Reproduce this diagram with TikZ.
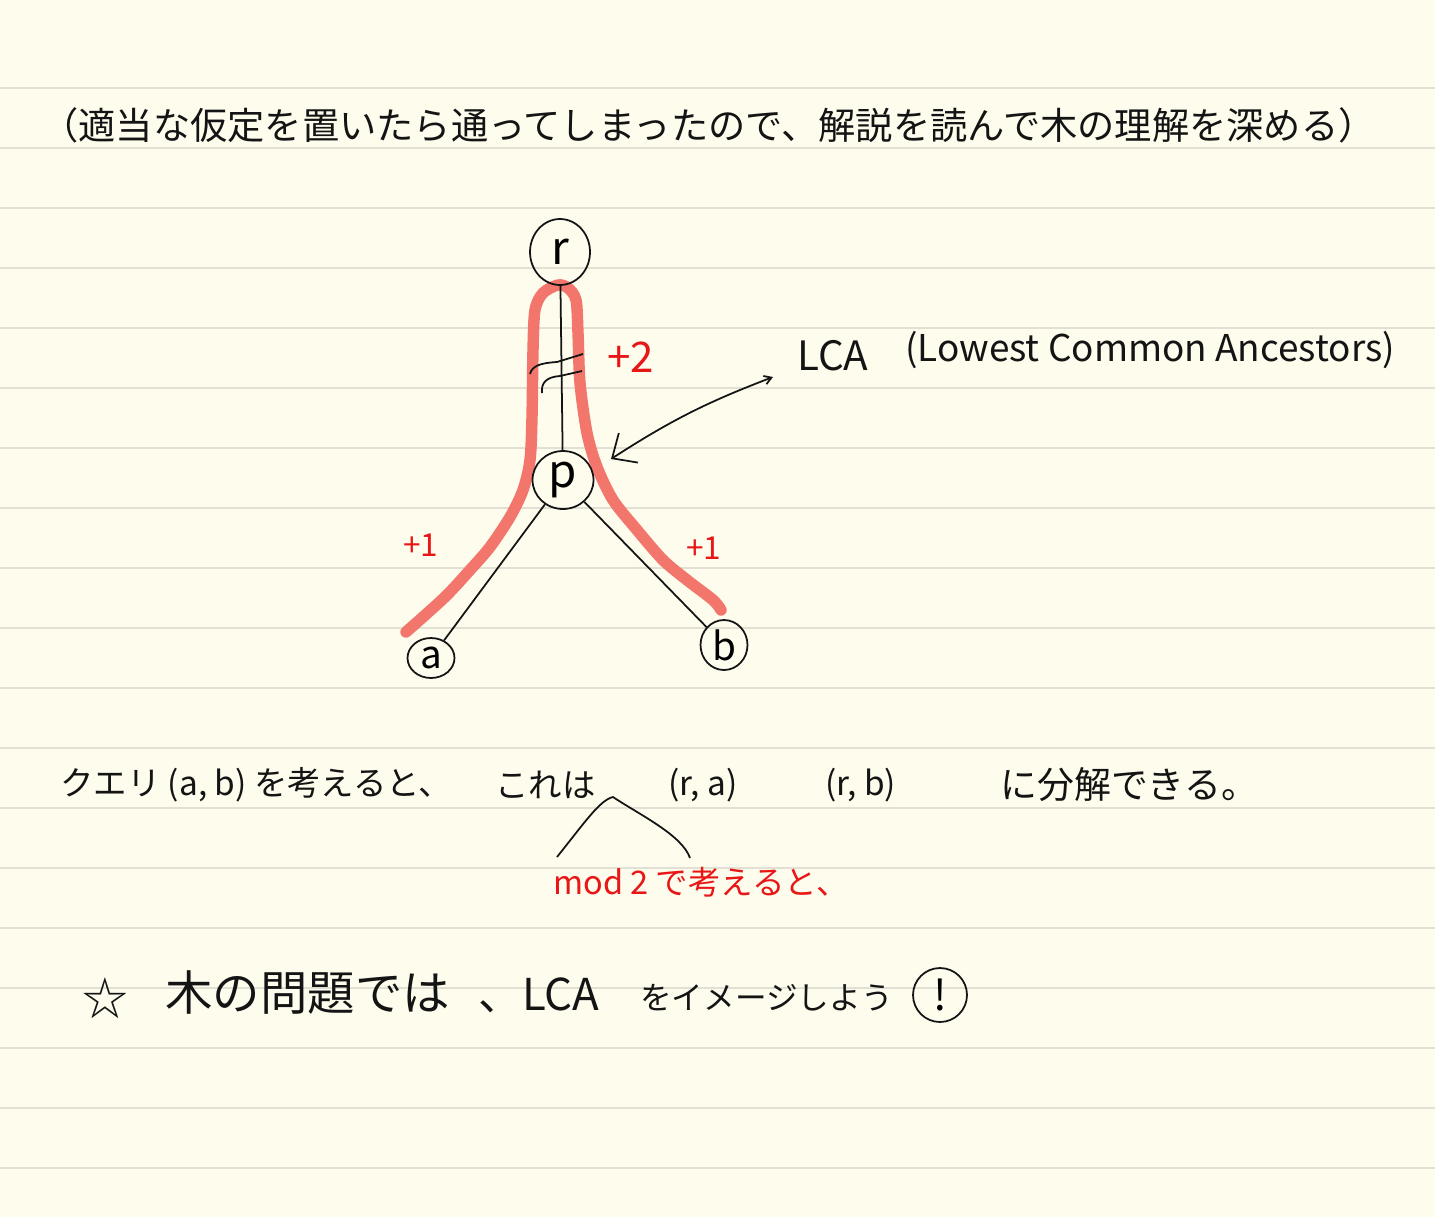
\documentclass[tikz,border=0pt]{standalone}
\usepackage{fontspec}
\newfontfamily\jp{Noto Sans CJK JP}
\usepackage{xcolor}
\usepackage{tikz}
\usetikzlibrary{arrows.meta,shapes.geometric,calc,positioning}
\definecolor{paper}{RGB}{254,252,237}
\definecolor{rule}{RGB}{226,224,212}
\definecolor{ink}{RGB}{20,20,20}
\definecolor{pen}{RGB}{232,22,22}
\definecolor{marker}{RGB}{242,118,108}
\tikzset{
  note/.style={font=\jp\fontsize{19}{22}\selectfont, text=ink, inner sep=0pt, anchor=west},
  rednote/.style={note, text=pen},
  vertex/.style={draw=ink, ellipse, inner sep=0pt, line width=1pt, font=\jp\fontsize{26}{28}\selectfont},
  edge/.style={draw=ink, line width=1pt},
  hl/.style={draw=marker, line width=6.5pt, line cap=round, line join=round},
}

\begin{document}
\begin{tikzpicture}[x=0.02cm, y=-0.02cm]
  \useasboundingbox (0,0) rectangle (1435,1217);
  % Paper and ruling
  \fill[paper] (0,0) rectangle (1435,1217);
  \foreach \ly in {88,148,...,1168}
    \draw[rule, line width=1.2pt] (0,\ly) -- (1435,\ly);
  % Heading
  \node[note, font=\jp\fontsize{21.2}{24}\selectfont] (head) at (41,125)
    {（適当な仮定を置いたら通ってしまったので、解説を読んで木の理解を深める）};
  % Path r -> a and r -> b
  \draw[hl] plot[smooth] coordinates {(406,632) (423,617) (447,595) (470,570) (490,547)
    (510,517) (523,490) (530,460) (532,417) (533,350) (535,310) (543,293) (558,285)
    (568,288) (576,300) (578,333) (580,383) (587,433) (597,467) (613,500) (637,530)
    (663,560) (687,580) (713,600) (721,610)};
  % Tree
  \node[vertex, minimum width=1.2cm, minimum height=1.32cm] (r) at (560,252) {r};
  \node[vertex, minimum width=1.22cm, minimum height=1.16cm] (p) at (563,480) {p};
  \node[vertex, minimum width=0.94cm, minimum height=0.8cm, font=\jp\fontsize{22}{24}\selectfont] (a) at (431,658) {a};
  \node[vertex, minimum width=0.94cm, minimum height=1.0cm, font=\jp\fontsize{22}{24}\selectfont] (b) at (724,645) {b};
  \draw[edge] (r) -- (p);
  \draw[edge] (p) -- (a);
  \draw[edge] (p) -- (b);
  % Omitted part of the edge
  \draw[edge] (530,374) .. controls (532,366) and (540,363) .. (557,362) -- (583,354);
  \draw[edge] (542,393) .. controls (541,383) and (546,377) .. (560,376) -- (582,371);
  % Parity marks
  \node[rednote, font=\jp\fontsize{24}{26}\selectfont] (two) at (607,357) {+2};
  \node[rednote, font=\jp\fontsize{18}{20}\selectfont] (onea) at (403,545) {+1};
  \node[rednote, font=\jp\fontsize{18}{20}\selectfont] (oneb) at (686,548) {+1};
  % LCA label
  \node[note, font=\jp\fontsize{23}{26}\selectfont] (lca) at (797,356) {LCA};
  \node[note, font=\jp\fontsize{21}{24}\selectfont] (lcaname) at (905,350) {(Lowest Common Ancestors)};
  \coordinate (tail) at (773,377);
  \coordinate (tip) at (611,459);
  \draw[edge, {Straight Barb[length=4pt,width=5pt]}-{Straight Barb[length=11pt,width=20pt]}]
    (tail) to[bend right=6] (tip);
  % Query split
  \node[note] (qa) at (60,785) {クエリ (a, b) を考えると、};
  \node[note] (qe) at (495,785) {これは};
  \node[note] (qb) at (668,785) {(r, a)};
  \node[note] (qc) at (825,785) {(r, b)};
  \node[note, font=\jp\fontsize{21}{24}\selectfont] (qd) at (1000,785) {に分解できる。};
  \coordinate (brl) at (557,857);
  \coordinate (brt) at (613,797);
  \coordinate (brr) at (690,858);
  \draw[edge] (brl) .. controls (585,822) and (600,800) .. (brt)
    .. controls (640,815) and (682,835) .. (brr);
  \node[rednote, font=\jp\fontsize{18.5}{20}\selectfont] (mod) at (553,882) {mod 2 で考えると、};
  % Take-away
  \node[note, font=\jp\fontsize{26}{28}\selectfont] (star) at (82,998) {☆};
  \node[note, font=\jp\fontsize{27}{30}\selectfont] (ba) at (165,993) {木の問題では};
  \node[note, font=\jp\fontsize{25}{28}\selectfont] (bb) at (478,995) {、LCA};
  \node[note, font=\jp\fontsize{18}{20}\selectfont] (bc) at (640,998) {をイメージしよう};
  \node[draw=ink, circle, line width=1pt, minimum size=1.08cm, inner sep=0pt,
    font=\jp\fontsize{24}{26}\selectfont] (bang) at (940,995) {!};
\end{tikzpicture}
\end{document}
